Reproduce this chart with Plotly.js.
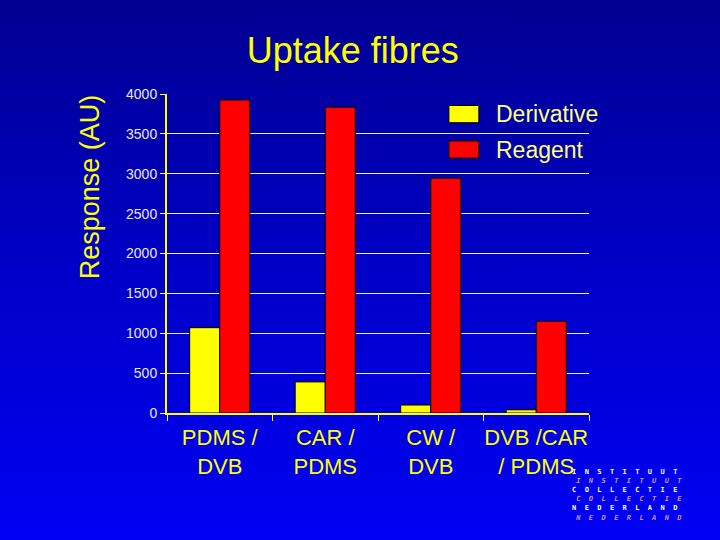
<!DOCTYPE html>
<html>
<head>
<meta charset="utf-8">
<script src="https://cdn.plot.ly/plotly-3.0.1.min.js"></script>
<style>
html,body{margin:0;padding:0;}
body{width:720px;height:540px;background:linear-gradient(to bottom,#000090 0%,#0000c8 50%,#0000f4 100%);}
#chart{width:720px;height:540px;}
</style>
</head>
<body>
<div id="chart"></div>
<script>
const categories = ["PDMS /<br>DVB", "CAR /<br>PDMS", "CW /<br>DVB", "DVB /CAR<br>/ PDMS"];
const seriesNames = ["Derivative", "Reagent"];
const derivative = [1070, 390, 100, 40];
const reagent = [3925, 3835, 2945, 1150];
const yTicks = [0, 500, 1000, 1500, 2000, 2500, 3000, 3500, 4000];
const colors = ['#ffff00', '#ff0000'];
const watermark = ['INSTITUUT', 'COLLECTIE', 'NEDERLAND'];

const FONT = 'Liberation Sans, Arial, sans-serif';
const NB = '\u00a0';

const traces = [
  {type: 'bar', name: seriesNames[0], x: categories, y: derivative,
   marker: {color: colors[0], line: {color: '#000000', width: 1}}},
  {type: 'bar', name: seriesNames[1], x: categories, y: reagent,
   marker: {color: colors[1], line: {color: '#000000', width: 1}}}
];

// custom legend (large swatches like the original)
const shapes = [];
const annotations = [];
const legY = [0.937, 0.826];
seriesNames.forEach((n, i) => {
  shapes.push({type: 'rect', xref: 'paper', yref: 'paper',
    x0: 0.668, x1: 0.739, y0: legY[i] - 0.027, y1: legY[i] + 0.027,
    fillcolor: colors[i], line: {color: '#000000', width: 1}});
  annotations.push({xref: 'paper', yref: 'paper', x: 0.775, y: legY[i], xanchor: 'left', yanchor: 'middle',
    showarrow: false, text: n, font: {family: FONT, size: 23, color: '#ffff80'}});
});

annotations.push({xref: 'paper', yref: 'paper', x: -0.183, y: 0.71, xanchor: 'center', yanchor: 'middle',
  showarrow: false, textangle: -90, text: 'Response (AU)', font: {family: FONT, size: 27, color: '#ffff00'}});

// watermark logo, one block of alternating white / pink italic lines
const spaced = w => w.split('').join(NB + NB);
const wmLines = [];
watermark.forEach(w => {
  wmLines.push('<span style="color:#ffffff"><b>' + spaced(w) + '</b></span>');
  wmLines.push('<span style="color:#d090e0"><b><i>' + NB + spaced(w) + '</i></b></span>');
});
annotations.push({xref: 'paper', yref: 'paper', x: 0.955, y: -0.167, xanchor: 'left', yanchor: 'top',
  align: 'left', showarrow: false, text: wmLines.join('<br>'),
  font: {family: 'DejaVu Sans Mono, monospace', size: 7, color: '#ffffff'}});

const layout = {
  width: 720, height: 540,
  paper_bgcolor: 'rgba(0,0,0,0)',
  plot_bgcolor: 'rgba(0,0,0,0)',
  margin: {l: 167, r: 131, t: 94, b: 127},
  barmode: 'group',
  bargap: 0.43,
  bargroupgap: 0,
  showlegend: false,
  title: {text: 'Uptake fibres', x: 0.49, xanchor: 'center', y: 0.907, yanchor: 'middle',
          font: {family: FONT, size: 36, color: '#ffff00'}},
  xaxis: {
    type: 'category', showgrid: false, showline: true, linecolor: '#ffff00', linewidth: 2,
    ticks: 'outside', tickson: 'boundaries', tickcolor: '#ffff99', ticklen: 6,
    tickangle: 0, ticklabelstandoff: 4,
    tickfont: {family: FONT, size: 22, color: '#ffff00'},
    zeroline: false
  },
  yaxis: {
    range: [0, 4000], tickvals: yTicks, ticktext: yTicks.map(String),
    showgrid: true, gridcolor: '#f0f0b0', gridwidth: 1,
    showline: true, linecolor: '#ffff00', linewidth: 2,
    ticks: 'outside', tickcolor: '#ffff99', ticklen: 5,
    tickfont: {family: FONT, size: 14, color: '#e8e8e8'},
    zeroline: false
  },
  shapes: shapes,
  annotations: annotations
};

Plotly.newPlot('chart', traces, layout, {displayModeBar: false, staticPlot: true});
</script>
</body>
</html>
